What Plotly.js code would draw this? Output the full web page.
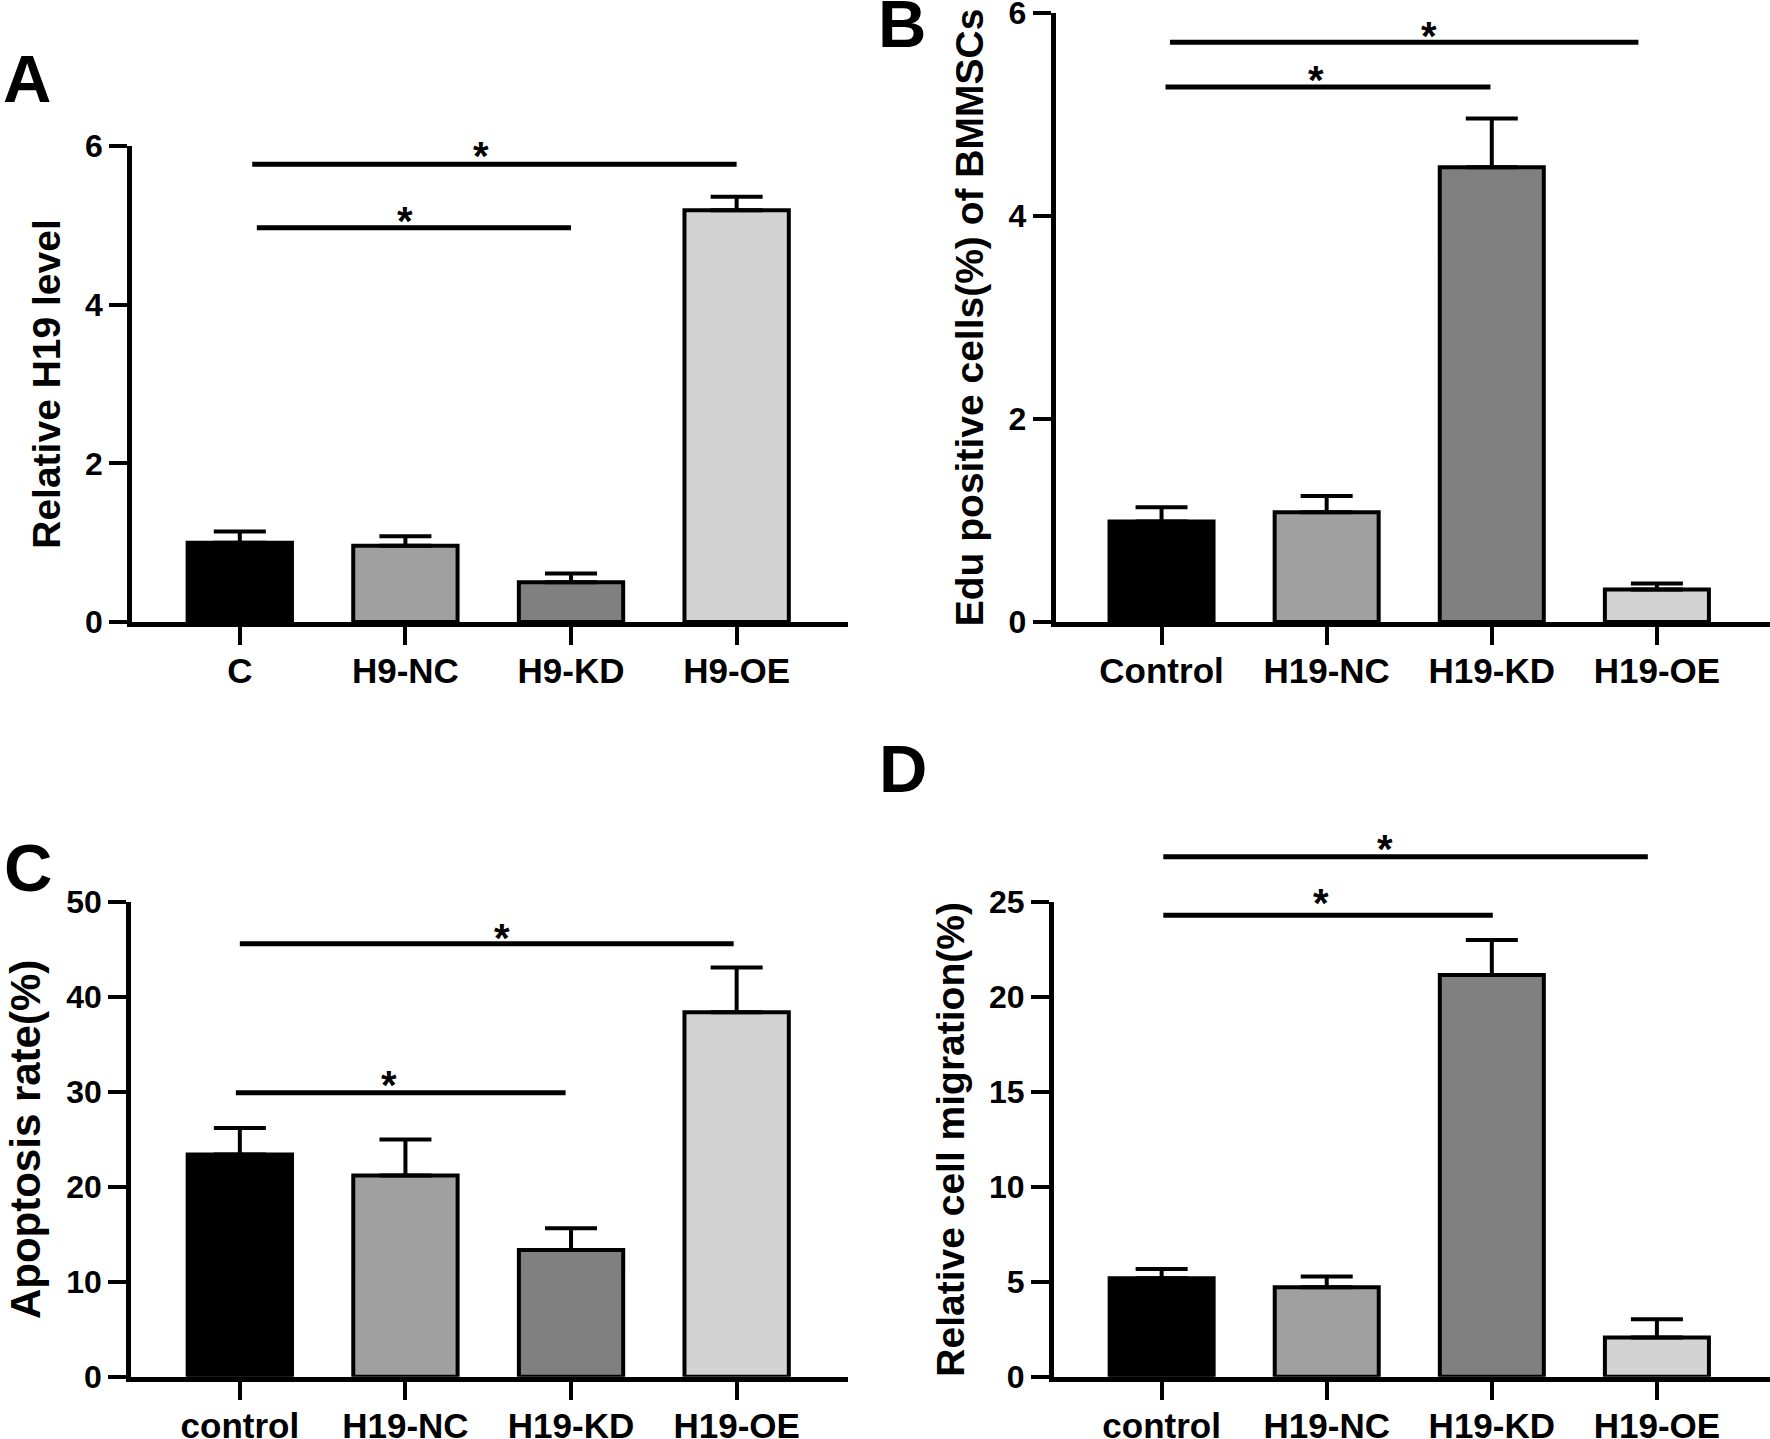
<!DOCTYPE html>
<html>
<head>
<meta charset="utf-8">
<script src="https://cdn.plot.ly/plotly-3.0.1.min.js"></script>
<style>html,body{margin:0;padding:0;background:#ffffff;}</style>
</head>
<body>
<div id="chart" style="width:1770px;height:1439px;"></div>
<script>
// ---------- data ----------
const catsA = ['C', 'H9-NC', 'H9-KD', 'H9-OE'];
const valsA = [1.00, 0.96, 0.50, 5.19];
const errA  = [0.14, 0.12, 0.11, 0.17];

const catsB = ['Control', 'H19-NC', 'H19-KD', 'H19-OE'];
const valsB = [0.99, 1.08, 4.48, 0.32];
const errB  = [0.14, 0.16, 0.48, 0.06];

const catsC = ['control', 'H19-NC', 'H19-KD', 'H19-OE'];
const valsC = [23.4, 21.2, 13.35, 38.4];
const errC  = [2.8, 3.8, 2.3, 4.7];

const catsD = ['control', 'H19-NC', 'H19-KD', 'H19-OE'];
const valsD = [5.19, 4.71, 21.16, 2.07];
const errD  = [0.48, 0.57, 1.84, 0.96];

// significance brackets: [x start, x end, line value, star x, star value]
const sigA = [[0.075, 3.00, 5.77, 1.455, 5.99], [0.103, 2.00, 4.97, 0.999, 5.17]];
const sigB = [[0.051, 2.888, 5.71, 1.617, 5.86], [0.024, 1.992, 5.27, 0.933, 5.43]];
const sigC = [[0.000, 2.982, 45.6, 1.585, 47.2], [-0.024, 1.967, 29.9, 0.903, 31.7]];
const sigD = [[0.010, 2.945, 27.38, 1.35, 28.24], [0.010, 2.006, 24.3, 0.967, 25.4]];

const titleA = 'Relative H19 level';
const titleB = 'Edu positive cells(%) of BMMSCs';
const titleC = 'Apoptosis rate(%)';
const titleD = 'Relative cell migration(%)';

const barColors = ['#000000', '#a0a0a0', '#808080', '#d3d3d3'];

// ---------- layout (pixel geometry of each panel) ----------
const W = 1770, H = 1439;
const FONT = 'Liberation Sans, Arial, Helvetica, sans-serif';
const panels = [
  {letter: 'A', cats: catsA, vals: valsA, err: errA, sig: sigA, title: titleA, yMax: 6,  dtick: 2,
   px: [132.3, 847.6], py: [146, 622],   xr: [-0.649, 3.670], lx: 1,   ly: 104, tsize: 39},
  {letter: 'B', cats: catsB, vals: valsB, err: errB, sig: sigB, title: titleB, yMax: 6,  dtick: 2,
   px: [1055.7, 1770], py: [12.9, 622],  xr: [-0.641, 3.685], lx: 876, ly: 49,  tsize: 39},
  {letter: 'C', cats: catsC, vals: valsC, err: errC, sig: sigC, title: titleC, yMax: 50, dtick: 10,
   px: [131.2, 847.6], py: [902, 1376.8], xr: [-0.656, 3.670], lx: 2,  ly: 893, tsize: 42},
  {letter: 'D', cats: catsD, vals: valsD, err: errD, sig: sigD, title: titleD, yMax: 25, dtick: 5,
   px: [1054, 1770], py: [902, 1376.8],  xr: [-0.652, 3.685], lx: 877, ly: 794, tsize: 39}
];

const traces = [];
const annotations = [];
const layout = {
  width: W, height: H, autosize: false,
  margin: {l: 0, r: 0, t: 0, b: 0, pad: 0},
  paper_bgcolor: '#ffffff', plot_bgcolor: 'rgba(0,0,0,0)',
  showlegend: false,
  font: {family: FONT, color: '#000000'},
  annotations: annotations
};

panels.forEach((p, i) => {
  const n = i + 1;
  const xName = n === 1 ? 'x' : 'x' + n;
  const yName = n === 1 ? 'y' : 'y' + n;
  const yExt = 'y' + (n + 4);
  const xKey = n === 1 ? 'xaxis' : 'xaxis' + n;
  const yKey = n === 1 ? 'yaxis' : 'yaxis' + n;
  const yExtKey = 'yaxis' + (n + 4);

  const d0 = 1 - p.py[1] / H;
  const d1 = 1 - p.py[0] / H;
  const d1e = Math.min(1, d1 + 0.05);
  const idx = p.cats.map((_, k) => k);

  layout[xKey] = {
    domain: [p.px[0] / W, p.px[1] / W], range: p.xr, anchor: yName,
    tickmode: 'array', tickvals: idx, ticktext: p.cats,
    showline: true, linewidth: 5, linecolor: '#000000',
    ticks: 'outside', ticklen: 18, tickwidth: 4, tickcolor: '#000000',
    ticklabelstandoff: -4, ticklabeloverflow: 'allow',
    showgrid: false, zeroline: false, fixedrange: true,
    tickfont: {family: FONT, size: 35, color: '#000000', weight: 700}
  };
  layout[yKey] = {
    domain: [d0, d1], range: [0, p.yMax], anchor: xName,
    tickmode: 'linear', tick0: 0, dtick: p.dtick,
    showline: true, linewidth: 5, linecolor: '#000000',
    ticks: 'outside', ticklen: 18, tickwidth: 4, tickcolor: '#000000',
    ticklabeloverflow: 'allow',
    showgrid: false, zeroline: false, fixedrange: true,
    tickfont: {family: FONT, size: 32, color: '#000000', weight: 700},
    title: {text: p.title, standoff: 14, font: {family: FONT, size: p.tsize, color: '#000000', weight: 700}}
  };
  // invisible companion axis with the same scale, taller, for the significance brackets
  layout[yExtKey] = {
    domain: [d0, d1e], range: [0, p.yMax * (d1e - d0) / (d1 - d0)], anchor: xName,
    visible: false, fixedrange: true, showgrid: false, zeroline: false
  };

  traces.push({
    type: 'bar', x: idx, y: p.vals, xaxis: xName, yaxis: yName,
    width: 0.63,
    marker: {color: barColors, line: {color: '#000000', width: 4}},
    error_y: {type: 'data', symmetric: false, array: p.err, arrayminus: p.err.map(() => 0),
              color: '#000000', thickness: 4, width: 26},
    hoverinfo: 'skip', showlegend: false
  });

  p.sig.forEach(s => {
    traces.push({
      type: 'scatter', mode: 'lines', x: [s[0], s[1]], y: [s[2], s[2]],
      xaxis: xName, yaxis: yExt,
      line: {color: '#000000', width: 5}, hoverinfo: 'skip', showlegend: false
    });
    annotations.push({
      xref: xName, yref: yExt, x: s[3], y: s[4], text: '*', showarrow: false,
      xanchor: 'center', yanchor: 'middle', yshift: -9,
      font: {family: FONT, size: 40, color: '#000000', weight: 700}
    });
  });

  annotations.push({
    xref: 'paper', yref: 'paper', x: p.lx / W, y: 1 - (p.ly + 0.212 * 67) / H,
    xanchor: 'left', yanchor: 'bottom', text: p.letter, showarrow: false,
    font: {family: FONT, size: 67, color: '#000000', weight: 700}
  });
});

Plotly.newPlot('chart', traces, layout, {staticPlot: true, displayModeBar: false});
</script>
</body>
</html>
